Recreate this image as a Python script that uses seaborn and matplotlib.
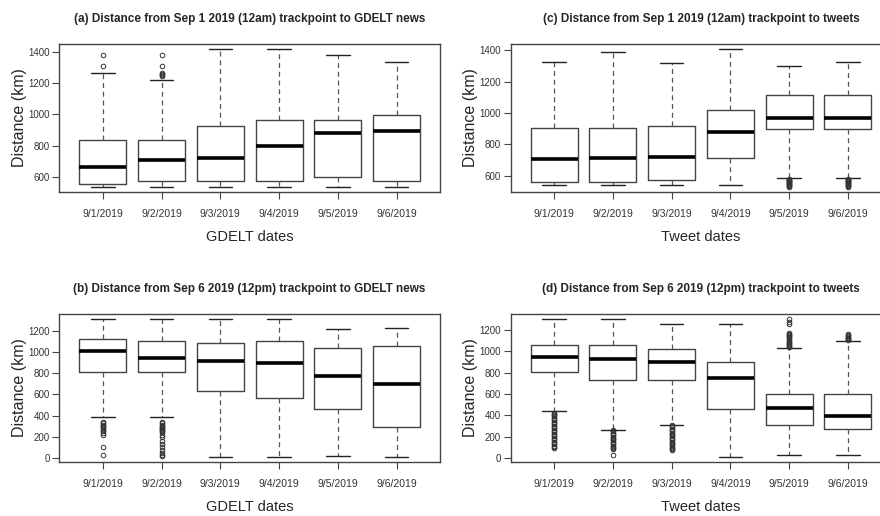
import matplotlib
matplotlib.use("Agg")
import matplotlib.pyplot as plt
import seaborn as sns

dates = ["9/1/2019", "9/2/2019", "9/3/2019", "9/4/2019", "9/5/2019", "9/6/2019"]

# (a) Sep 1 trackpoint -> GDELT news
a_lo = [540, 540, 540, 540, 540, 540]
a_q1 = [557, 577, 577, 577, 598, 577]
a_med = [664, 707, 724, 798, 881, 892]
a_q3 = [839, 839, 926, 967, 967, 999]
a_hi = [1261, 1218, 1414, 1414, 1378, 1336]
a_fliers = [[1308, 1378], [1244, 1250, 1255, 1261, 1308, 1378], [], [], [], []]

# (c) Sep 1 trackpoint -> tweets
c_lo = [541, 541, 541, 541, 585, 585]
c_q1 = [562, 562, 571, 714, 899, 899]
c_med = [709, 714, 722, 882, 968, 968]
c_q3 = [905, 905, 920, 1019, 1112, 1112]
c_hi = [1322, 1389, 1316, 1404, 1299, 1326]
c_fliers = [[], [], [], [],
            [532, 536, 540, 544, 548, 552, 556, 560, 564, 568, 572, 576, 580],
            [532, 536, 540, 544, 548, 552, 556, 560, 564, 568, 572, 576, 580]]

# (b) Sep 6 trackpoint -> GDELT news
b_lo = [390, 390, 13, 13, 22, 13]
b_q1 = [814, 814, 631, 569, 465, 292]
b_med = [1008, 939, 914, 892, 776, 694]
b_q3 = [1118, 1100, 1084, 1103, 1040, 1056]
b_hi = [1307, 1307, 1307, 1307, 1216, 1222]
b_fliers = [[336, 325, 315, 300, 290, 280, 265, 250, 236, 220, 101, 28],
            [335, 325, 315, 305, 295, 285, 275, 265, 255, 240, 220, 200,
             160, 130, 100, 75, 50, 30, 18],
            [], [], [], []]

# (d) Sep 6 trackpoint -> tweets
d_lo = [444, 266, 313, 13, 25, 25]
d_q1 = [809, 734, 734, 462, 313, 275]
d_med = [950, 928, 900, 753, 466, 394]
d_q3 = [1062, 1059, 1019, 903, 603, 603]
d_hi = [1300, 1300, 1256, 1256, 1034, 1100]
d_fliers = [[90, 102, 115, 128, 140, 152, 165, 178, 190, 202, 215, 228, 240, 252,
             265, 278, 290, 302, 315, 328, 340, 352, 365, 378, 390, 402, 412, 420],
            [25, 80, 92, 104, 116, 128, 140, 152, 164, 176, 188, 200, 212, 224,
             236, 248, 258],
            [70, 82, 94, 106, 118, 130, 142, 154, 166, 178, 190, 202, 214, 226,
             238, 250, 262, 274, 286, 298, 308],
            [],
            [1042, 1052, 1062, 1072, 1082, 1092, 1102, 1112, 1122, 1132, 1142,
             1152, 1162, 1170, 1256, 1272, 1300],
            [1105, 1112, 1120, 1128, 1136, 1144, 1152, 1160]]

sns.set_style("ticks")
plt.rcParams['font.family'] = ['Liberation Sans Narrow', 'Liberation Sans', 'DejaVu Sans']

fig = plt.figure(figsize=(8.8, 5.16), dpi=100)

gray = '#444444'


def panel(rect, lo, q1, med, q3, hi, fliers, title, xlabel, yticks):
    ax = fig.add_axes(rect)
    stats = []
    for i in range(len(dates)):
        stats.append(dict(whislo=lo[i], q1=q1[i], med=med[i], q3=q3[i],
                          whishi=hi[i], fliers=fliers[i]))
    ax.bxp(stats, positions=range(1, 7), widths=0.8, capwidths=0.4,
           boxprops=dict(color=gray, lw=1),
           medianprops=dict(color='black', lw=2.6, solid_capstyle='butt'),
           whiskerprops=dict(color='#555555', lw=0.9, linestyle=(0, (4, 3))),
           capprops=dict(color='#222222', lw=1),
           flierprops=dict(marker='o', markerfacecolor='none',
                           markeredgecolor='#333333', markersize=3.3,
                           markeredgewidth=0.7))
    vals = lo + hi + [v for f in fliers for v in f]
    lo_v, hi_v = min(vals), max(vals)
    ext = (hi_v - lo_v) * 0.04
    ax.set_ylim(lo_v - ext, hi_v + ext)
    ax.set_xlim(0.26, 6.74)
    ax.set_xticks(range(1, 7))
    ax.set_xticklabels(dates)
    ax.set_yticks(yticks)
    ax.tick_params(axis='x', direction='out', length=5, width=0.8, color=gray,
                   labelsize=7.5, labelcolor='#333333', pad=7)
    ax.tick_params(axis='y', direction='out', length=5, width=0.8, color=gray,
                   labelsize=7, labelcolor='#333333', pad=2)
    for s in ax.spines.values():
        s.set_color(gray)
        s.set_linewidth(1)
    ax.set_title(title, fontsize=8.5, fontweight='bold', pad=15.5)
    ax.set_xlabel(xlabel, fontsize=10.5, labelpad=8)
    ax.set_ylabel('Distance (km)', fontsize=11.5, labelpad=1)
    return ax


top_y = (516 - 192) / 516
bot_y = (516 - 462) / 516
h = 148 / 516
left_a = 59.3 / 880
left_c = 510.7 / 880
w = 380.7 / 880

yt_top = [600, 800, 1000, 1200, 1400]
yt_bot = [0, 200, 400, 600, 800, 1000, 1200]

panel([left_a, top_y, w, h], a_lo, a_q1, a_med, a_q3, a_hi, a_fliers,
      '(a) Distance from Sep 1 2019 (12am) trackpoint to GDELT news', 'GDELT dates', yt_top)
panel([left_c, top_y, w, h], c_lo, c_q1, c_med, c_q3, c_hi, c_fliers,
      '(c) Distance from Sep 1 2019 (12am) trackpoint to tweets', 'Tweet dates', yt_top)
panel([left_a, bot_y, w, h], b_lo, b_q1, b_med, b_q3, b_hi, b_fliers,
      '(b) Distance from Sep 6 2019 (12pm) trackpoint to GDELT news', 'GDELT dates', yt_bot)
panel([left_c, bot_y, w, h], d_lo, d_q1, d_med, d_q3, d_hi, d_fliers,
      '(d) Distance from Sep 6 2019 (12pm) trackpoint to tweets', 'Tweet dates', yt_bot)

fig.savefig('out.png', dpi=100)
